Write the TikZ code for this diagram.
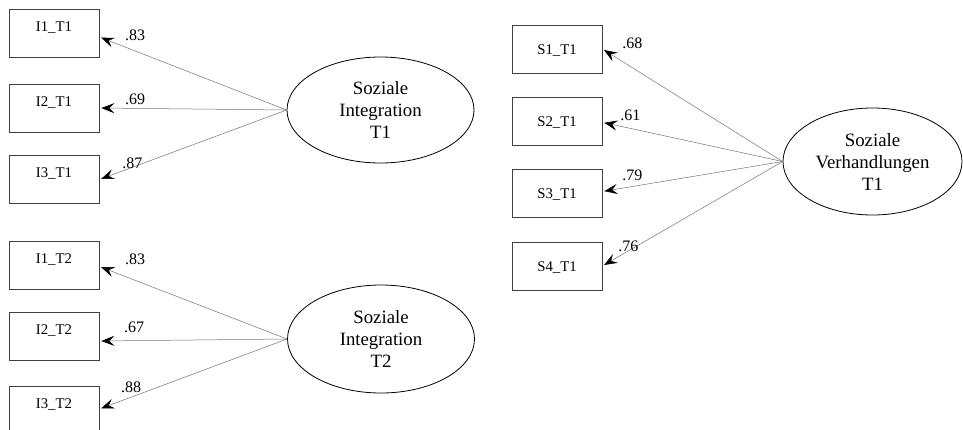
\documentclass[tikz,border=0pt]{standalone}
\usepackage{fontspec}
\setmainfont{Liberation Serif}
\usetikzlibrary{arrows.meta,shapes.geometric}

\begin{document}
\begin{tikzpicture}[x=1pt,y=-1pt]
	\tikzset{> = {Stealth[length=13pt,width=10pt,inset=5pt,color=black]}}
	\tikzset{item/.style = {draw=black!75, line width=0.7pt, minimum width=90pt, minimum height=48pt, inner sep=0pt, text height=10pt, text depth=0pt, font=\fontsize{14.8}{17}\selectfont},
	         ritem/.style = {item, text depth=14pt},
	         latent/.style = {draw, ellipse, line width=0.8pt, inner sep=0pt, align=center, font=\fontsize{18.8}{22}\selectfont},
	         coef/.style = {inner sep=0pt, font=\fontsize{16}{18}\selectfont},
	         load/.style = {->, draw=black!55, line width=0.5pt, shorten >=2pt}}
	\useasboundingbox (0,0) rectangle (963,429);
	\node[ritem] (i1t1) at (54,33) {I1\_T1};
	\node[ritem] (i2t1) at (54,108) {I2\_T1};
	\node[ritem] (i3t1) at (54,179.5) {I3\_T1};
	\node[ritem] (i1t2) at (54,265.5) {I1\_T2};
	\node[ritem] (i2t2) at (54,336.5) {I2\_T2};
	\node[ritem] (i3t2) at (54,410) {I3\_T2};
	\node[item] (s1t1) at (557,49) {S1\_T1};
	\node[item] (s2t1) at (557,121) {S2\_T1};
	\node[item] (s3t1) at (557,193) {S3\_T1};
	\node[item] (s4t1) at (557,266) {S4\_T1};
	\node[latent, minimum width=187pt, minimum height=106pt] (si1) at (380.5,110) {Soziale\\Integration\\T1};
	\node[latent, minimum width=187pt, minimum height=108pt] (si2) at (381,339) {Soziale\\Integration\\T2};
	\node[latent, minimum width=179pt, minimum height=107pt] (sv1) at (872.5,161.5) {Soziale\\Verhandlungen\\T1};
	\foreach \b/\s/\p/\d/\v in {i1t1/-4/0.809/15.6/.83, i2t1/0/0.809/9/.69, i3t1/0/0.824/4/.87}
		\draw[load] (si1.west) -- node[coef, pos=\p, yshift=\d pt] {\v} ([yshift=\s pt]\b.east);
	\foreach \b/\s/\p/\d/\v in {i1t2/-1/0.81/20.7/.83, i2t2/-4.5/0.815/13/.67, i3t2/1/0.831/9.5/.88}
		\draw[load] (si2.west) -- node[coef, pos=\p, yshift=\d pt] {\v} ([yshift=\s pt]\b.east);
	\foreach \b/\s/\p/\d/\v in {s1t1/0/0.834/24/.68, s2t1/-1.3/0.845/13.4/.61, s3t1/1.5/0.834/10.8/.79, s4t1/0/0.856/4.8/.76}
		\draw[load] (sv1.west) -- node[coef, pos=\p, yshift=\d pt] {\v} ([yshift=\s pt]\b.east);
\end{tikzpicture}
\end{document}
